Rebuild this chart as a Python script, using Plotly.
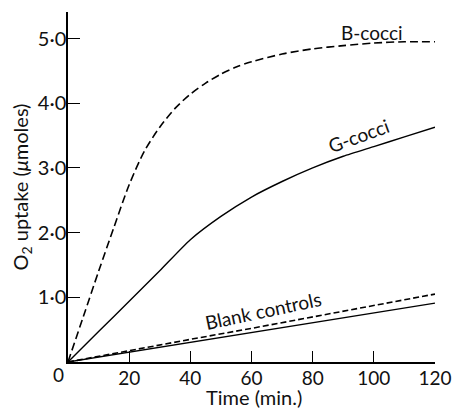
import plotly.graph_objects as go

# Data
b_time = [0, 5, 10, 15, 20, 25, 30, 35, 40, 45, 50, 55, 60, 70, 80, 90, 100, 110, 120]
b_cocci = [0, 0.70, 1.40, 2.08, 2.74, 3.26, 3.63, 3.92, 4.14, 4.31, 4.45, 4.56, 4.64, 4.76, 4.84, 4.89, 4.93, 4.95, 4.95]

g_time = [0, 10, 20, 30, 40, 50, 60, 70, 80, 90, 100, 110, 120]
g_cocci = [0, 0.47, 0.94, 1.41, 1.89, 2.25, 2.55, 2.79, 3.00, 3.18, 3.33, 3.48, 3.63]

blank_time = [0, 20, 40, 60, 80, 100, 120]
blank_dashed = [0, 0.18, 0.35, 0.52, 0.70, 0.87, 1.05]
blank_solid = [0, 0.15, 0.30, 0.45, 0.60, 0.76, 0.91]

x_ticks = [20, 40, 60, 80, 100, 120]
x_tick_labels = ["20", "40", "60", "80", "100", "120"]
y_ticks = [1, 2, 3, 4, 5]
y_tick_labels = ["1·0", "2·0", "3·0", "4·0", "5·0"]

FONT = "Lato"
fig = go.Figure()
fig.add_trace(go.Scatter(x=b_time, y=b_cocci, mode="lines", line=dict(color="black", width=1.6, dash="8px,4px", shape="spline", smoothing=0.8)))
fig.add_trace(go.Scatter(x=g_time, y=g_cocci, mode="lines", line=dict(color="black", width=1.4, shape="spline", smoothing=0.6)))
fig.add_trace(go.Scatter(x=blank_time, y=blank_dashed, mode="lines", line=dict(color="black", width=1.6, dash="6px,3px")))
fig.add_trace(go.Scatter(x=blank_time, y=blank_solid, mode="lines", line=dict(color="black", width=1.4)))

ann = dict(showarrow=False, font=dict(family=FONT, size=19, color="#111"), xanchor="center", yanchor="middle")
fig.add_annotation(text="B-cocci", x=99.3, y=5.10, xref="x", yref="y", **ann)
fig.add_annotation(text="G-cocci", x=95.0, y=3.50, textangle=-20, xref="x", yref="y", **ann)
fig.add_annotation(text="Blank controls", x=63.8, y=0.80, textangle=-12, xref="x", yref="y", **ann)
fig.add_annotation(text="0", x=-0.026, y=-0.036, xref="paper", yref="paper", **ann)
fig.add_annotation(text="Time (min.)", x=0.507, y=-0.1, xref="paper", yref="paper",
                   showarrow=False, font=dict(family=FONT, size=20, color="#111"), xanchor="center", yanchor="middle")

fig.update_layout(
    width=464, height=410,
    margin=dict(l=68, r=17, t=12, b=48),
    paper_bgcolor="white", plot_bgcolor="white",
    showlegend=False,
    font=dict(family=FONT, size=19, color="#111"),
    xaxis=dict(range=[0, 120], tickvals=x_ticks, ticktext=x_tick_labels,
               showline=True, linecolor="black", linewidth=1.5, ticks="inside", ticklen=11,
               tickwidth=1.3, tickcolor="black", showgrid=False, zeroline=False,
               tickfont=dict(size=19),
               ticklabelstandoff=-2),
    yaxis=dict(range=[0, 5.41], tickvals=y_ticks, ticktext=y_tick_labels,
               showline=True, linecolor="black", linewidth=1.5, ticks="inside", ticklen=12,
               tickwidth=1.3, tickcolor="black", showgrid=False, zeroline=False,
               tickfont=dict(size=20),
               title=dict(text="O<sub>2</sub> uptake (<i>μ</i>moles)", standoff=4, font=dict(size=20)),
               ticklabelstandoff=-4),
)

fig.write_html("out.html")
